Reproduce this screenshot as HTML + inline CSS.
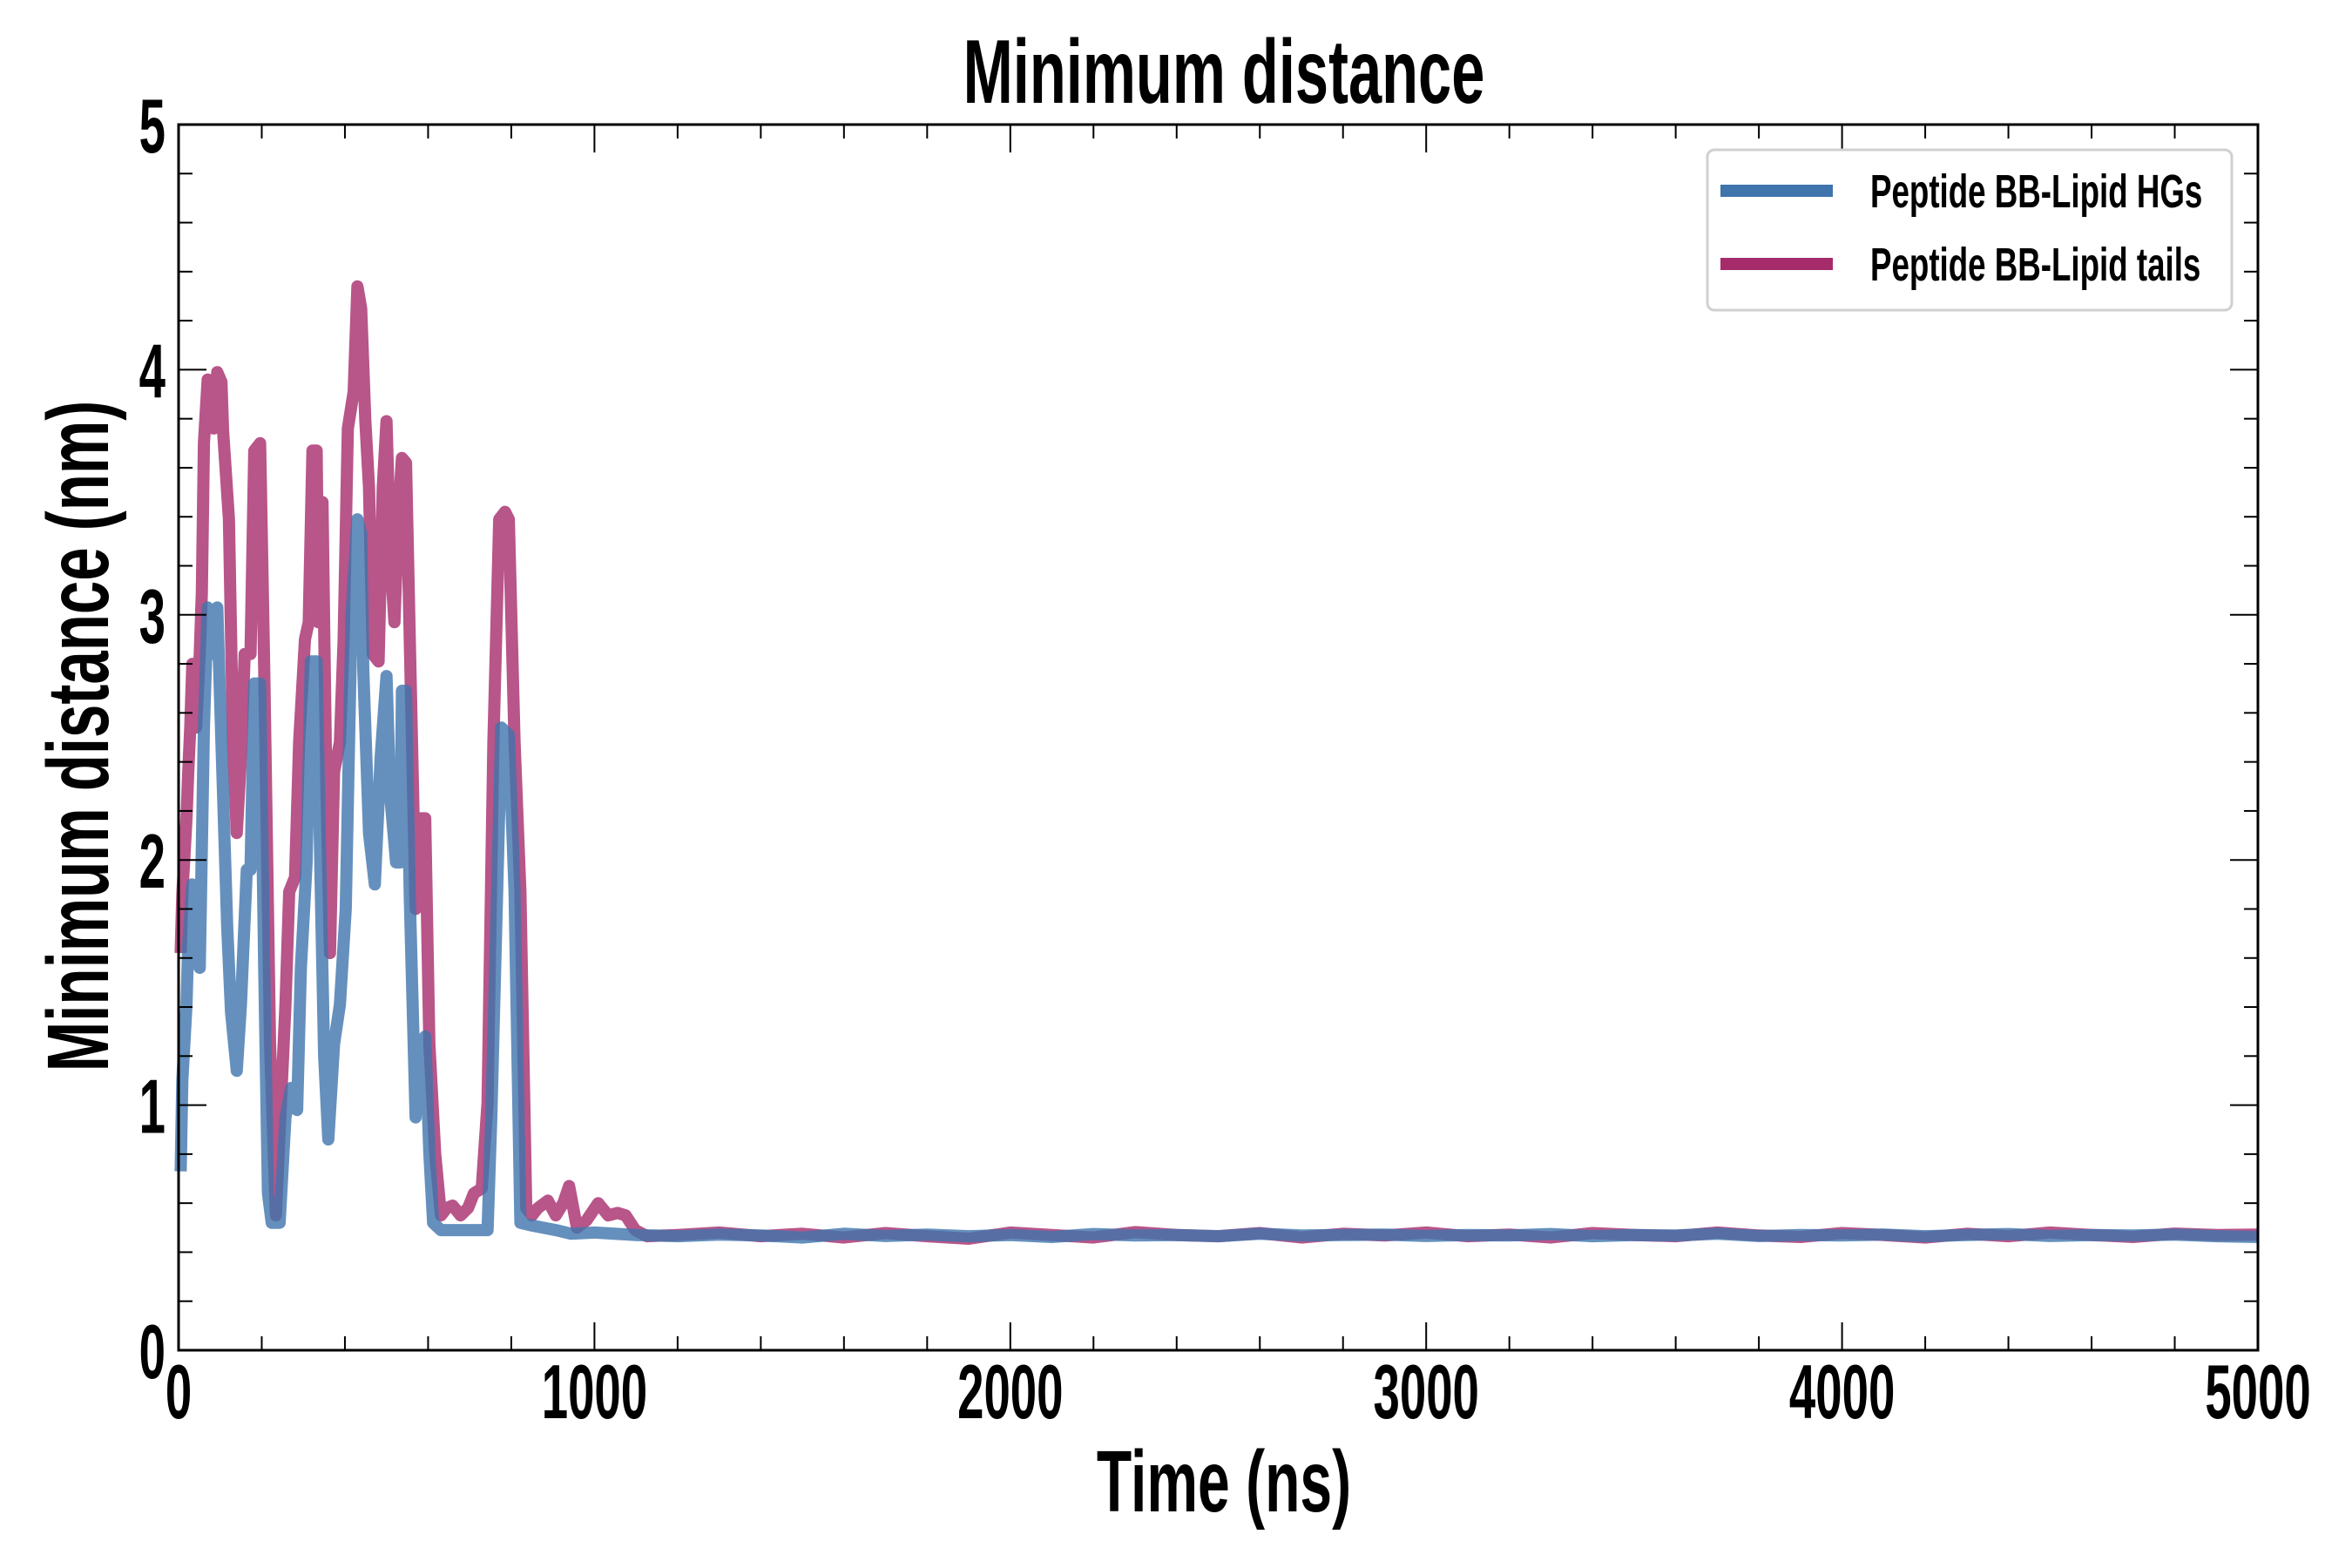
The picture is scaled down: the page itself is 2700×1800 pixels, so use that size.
<!DOCTYPE html>
<html><head><meta charset="utf-8"><style>
html,body{margin:0;padding:0;background:#fff;width:2700px;height:1800px;overflow:hidden}
svg{display:block}
text{font-family:"Liberation Sans Narrow","Liberation Sans",sans-serif;font-weight:bold;fill:#000}
</style></head><body>
<svg id="chart" width="2700" height="1800" xmlns="http://www.w3.org/2000/svg"></svg>
<script>
const xTicks=[0,1000,2000,3000,4000,5000];
const yTicks=[0,1,2,3,4,5];
const tailEarlyT=[5,9,19,23,28,33,42,51,56,61,70,84,93,103,107,121,131,140,150,159,173,182,196,206,220,234,243,257,266,280,290,304,313,322,332,336,346,355,364,374,388,397,407,421,430,439,449,458,467,481,491,500,509,519,528,537,547,556,570,584,593,603,617,631,645,659,678,696,710,729,743,757,771,785,794,808,822,836,850,864,888,907,925,939,958,981,1009,1033,1056,1075,1098,1126];
const tailEarlyV=[1.62,1.86,2.17,2.35,2.54,2.8,2.54,2.84,3.09,3.7,3.96,3.76,3.99,3.95,3.75,3.39,2.48,2.11,2.42,2.84,2.84,3.67,3.7,2.78,1.25,0.55,0.89,1.41,1.87,1.93,2.48,2.9,2.97,3.67,3.67,2.97,3.46,2.33,1.62,2.36,2.48,2.9,3.76,3.91,4.34,4.25,3.79,3.52,2.84,2.81,3.52,3.79,3.24,2.97,3.39,3.64,3.62,2.9,1.8,2.17,2.17,1.25,0.8,0.55,0.58,0.59,0.55,0.58,0.64,0.66,1.01,2.48,3.39,3.42,3.39,2.48,1.87,0.58,0.55,0.58,0.61,0.55,0.6,0.67,0.5,0.53,0.6,0.55,0.56,0.55,0.49,0.465];
const tailLateT=[1200,1300,1400,1500,1600,1700,1800,1900,2000,2100,2200,2300,2400,2500,2600,2700,2800,2900,3000,3100,3200,3300,3400,3500,3600,3700,3800,3900,4000,4100,4200,4300,4400,4500,4600,4700,4800,4900,5000];
const tailLateV=[0.47,0.48,0.465,0.475,0.46,0.478,0.465,0.455,0.48,0.47,0.46,0.482,0.47,0.465,0.478,0.46,0.475,0.468,0.48,0.465,0.472,0.46,0.478,0.47,0.465,0.48,0.468,0.462,0.478,0.47,0.46,0.475,0.465,0.48,0.47,0.462,0.476,0.47,0.472];
const hgEarlyT=[5,9,19,23,33,42,51,61,70,84,93,103,117,126,140,150,164,173,182,196,206,215,224,243,257,271,285,294,308,318,332,341,350,360,374,388,402,416,430,439,444,458,472,486,500,509,523,533,537,547,556,570,579,593,603,612,631,678,743,752,766,776,794,808,822,846,907,944];
const hgEarlyV=[0.73,1.1,1.41,1.65,1.9,1.59,1.56,2.54,3.03,2.84,3.03,2.48,1.72,1.38,1.14,1.41,1.96,1.96,2.72,2.72,1.56,0.64,0.52,0.52,0.95,1.07,0.98,1.56,1.99,2.81,2.81,1.96,1.2,0.86,1.25,1.41,1.8,3.0,3.39,3.33,2.78,2.11,1.9,2.42,2.75,2.26,1.99,1.99,2.69,2.69,1.85,0.95,1.25,1.28,0.8,0.52,0.49,0.49,0.49,0.95,1.87,2.54,2.51,1.87,0.52,0.51,0.49,0.475];
const hgLateT=[1000,1100,1200,1300,1400,1500,1600,1700,1800,1900,2000,2100,2200,2300,2400,2500,2600,2700,2800,2900,3000,3100,3200,3300,3400,3500,3600,3700,3800,3900,4000,4100,4200,4300,4400,4500,4600,4700,4800,4900,5000];
const hgLateV=[0.48,0.47,0.465,0.472,0.468,0.46,0.475,0.466,0.472,0.465,0.47,0.462,0.474,0.468,0.47,0.465,0.475,0.468,0.47,0.472,0.466,0.47,0.468,0.474,0.465,0.47,0.468,0.475,0.466,0.47,0.468,0.472,0.465,0.47,0.474,0.466,0.47,0.468,0.472,0.465,0.462];

const L=205,R=2592,T=143,B=1550;
const xs=v=>L+(v-0)/5000*(R-L);
const ys=v=>B-(v-0)/5*(B-T);
const svg=document.getElementById('chart');
const NS='http://www.w3.org/2000/svg';
function mk(tag,attrs,parent){const e=document.createElementNS(NS,tag);for(const k in attrs)e.setAttribute(k,attrs[k]);(parent||svg).appendChild(e);return e;}

function series(T_,V_,color,name){
  const d=T_.map((t,i)=>(i?'L':'M')+xs(t).toFixed(1)+','+ys(V_[i]).toFixed(1)).join('');
  const p=mk('path',{d:d,fill:'none',stroke:color,'stroke-width':14,'stroke-linejoin':'round','stroke-opacity':0.8});
  
  
}
series(tailEarlyT.concat(tailLateT),tailEarlyV.concat(tailLateV),'#a62b6b','series-lipid-tails');
series(hgEarlyT.concat(hgLateT),hgEarlyV.concat(hgLateV),'#3f74ad','series-lipid-hgs');

const fr=mk('rect',{x:L,y:T,width:R-L,height:B-T,fill:'none',stroke:'#000','stroke-width':3});



const tg=mk('g',{stroke:'#000','stroke-width':2});


for(let v=0;v<=5000;v+=200){const x=xs(v),len=(v%1000===0)?32:16;
  mk('line',{x1:x,x2:x,y1:B,y2:B-len},tg);mk('line',{x1:x,x2:x,y1:T,y2:T+len},tg);}
for(let i=0;i<=25;i++){const v=i*0.2,y=ys(v),len=(i%5===0)?32:16;
  mk('line',{x1:L,x2:L+len,y1:y,y2:y},tg);mk('line',{x1:R,x2:R-len,y1:y,y2:y},tg);}

function ctext(x,y,size,sx,anchor,str,name,rot){
  const t=mk('text',{'text-anchor':anchor,'font-size':size,transform:'translate('+x+','+y+')'+(rot?' rotate(-90)':'')+' scale('+sx+',1)'});
  t.textContent=str;
  
  
  return t;
}
xTicks.forEach(v=>ctext(xs(v),1628,88,0.62,'middle',String(v),'x-tick-label'));
yTicks.forEach(v=>ctext(190,ys(v)+32,88,0.62,'end',String(v),'y-tick-label'));
ctext(1405,118,104,0.66,'middle','Minimum distance','chart-title');
ctext(1405,1735,100,0.66,'middle','Time (ns)','x-axis-title');
ctext(124,845,100,0.69,'middle','Minimum distance (nm)','y-axis-title',true);

const lg=mk('g',{});


mk('rect',{x:1960,y:172,width:602,height:184,rx:8,fill:'#fff',stroke:'#d0d0d0','stroke-width':3},lg);
[['Peptide BB-Lipid HGs','#3f74ad',219],['Peptide BB-Lipid tails','#a62b6b',303]].forEach(e=>{
  const g=mk('g',{},lg);
  
  
  mk('line',{x1:1975,x2:2104,y1:e[2],y2:e[2],stroke:e[1],'stroke-width':14},g);
  const t=mk('text',{'font-size':54,transform:'translate(2147,'+(e[2]+19)+') scale(0.68,1)'},g);t.textContent=e[0];
});
</script>
</body></html>
